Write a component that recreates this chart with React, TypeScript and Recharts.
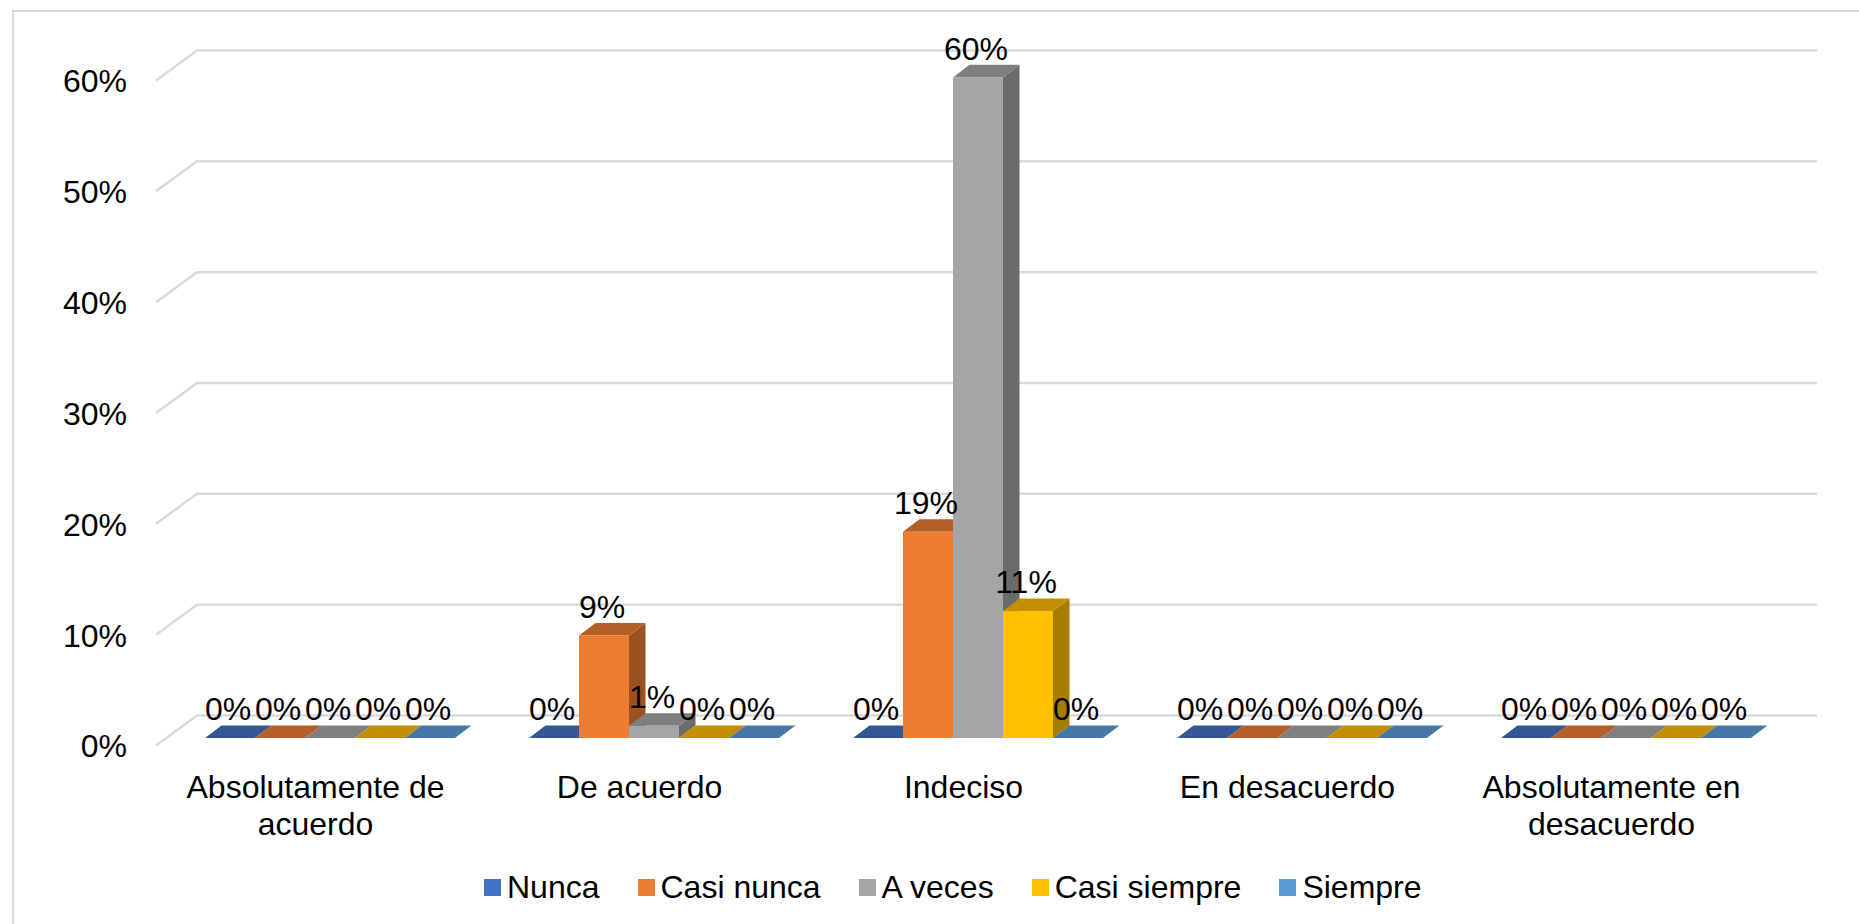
import React from 'react';
import { BarChart, Bar, XAxis, YAxis, CartesianGrid, Legend, LabelList, Text } from 'recharts';

const categories = ['Absolutamente de acuerdo', 'De acuerdo', 'Indeciso', 'En desacuerdo', 'Absolutamente en desacuerdo'];
const nunca = [0, 0, 0, 0, 0];
const casiNunca = [0, 9.25, 18.6, 0, 0];
const aVeces = [0, 1.1, 59.6, 0, 0];
const casiSiempre = [0, 0, 11.45, 0, 0];
const siempre = [0, 0, 0, 0, 0];
const yTicks = [0, 10, 20, 30, 40, 50, 60];

const seriesDefs = [
  { name: 'Nunca', values: nunca, front: '#4472C4', top: '#355694', side: '#2F4F87' },
  { name: 'Casi nunca', values: casiNunca, front: '#ED7D31', top: '#B45F25', side: '#9C5220' },
  { name: 'A veces', values: aVeces, front: '#A5A5A5', top: '#7F7F7F', side: '#6B6B6B' },
  { name: 'Casi siempre', values: casiSiempre, front: '#FFC000', top: '#C49000', side: '#A67D00' },
  { name: 'Siempre', values: siempre, front: '#5B9BD5', top: '#4677A6', side: '#3E6B96' },
];

const data = categories.map((c, i) => {
  const row: Record<string, string | number> = { category: c };
  seriesDefs.forEach((s) => { row[s.name] = s.values[i]; });
  return row;
});

const FONT = '"Liberation Sans", Arial, sans-serif';
const DX = 16.5;
const DY = 12.6;

const Bar3D = (def: typeof seriesDefs[number]) => (p: any) => {
  const { x, y, width: w, height: h } = p;
  return (
    <g>
      {h > 0 && <path d={`M${x + w} ${y}L${x + w + DX} ${y - DY}V${y + h - DY}L${x + w} ${y + h}Z`} fill={def.side} />}
      <path d={`M${x} ${y}L${x + DX} ${y - DY}H${x + w + DX}L${x + w} ${y}Z`} fill={def.top} />
      {h > 0 && <rect x={x} y={y} width={w} height={h} fill={def.front} />}
    </g>
  );
};

const gridLine = (p: any) => (
  <path
    key={`g-${p.y1}`}
    d={`M156 ${p.y1 + 7.5}L197 ${p.y1 - 22.5}H1817`}
    fill="none"
    stroke="#DADADA"
    strokeWidth={2.5}
  />
);

const YTick = (p: any) => (
  <text x={127} y={p.y + 8} dy="0.355em" textAnchor="end" fontFamily={FONT} fontSize={32} fill="#000">
    {`${p.payload.value}%`}
  </text>
);

const XTick = (p: any) => (
  <Text
    x={p.x - 14}
    y={775}
    width={330}
    textAnchor="middle"
    verticalAnchor="start"
    lineHeight={37}
    fontFamily={FONT}
    fontSize={32}
    fill="#000"
    style={{ fontFamily: FONT, fontSize: '32px' }}
  >
    {p.payload.value}
  </Text>
);

const barLabel = (p: any) => (
  <text x={p.x + p.width / 2 - 2} y={p.y - 29} dy="0.355em" textAnchor="middle" fontFamily={FONT} fontSize={32} fill="#000">
    {`${Math.round(p.value)}%`}
  </text>
);

const LegendBox = (p: any) => (
  <div style={{ display: 'flex', justifyContent: 'flex-start', alignItems: 'center', paddingTop: 41, paddingLeft: 484, fontFamily: FONT, fontSize: 32, color: '#000' }}>
    {p.payload.map((it: any) => (
      <div key={it.value} style={{ display: 'flex', alignItems: 'center', marginRight: 38 }}>
        <span style={{ width: 17, height: 17, background: it.color, marginRight: 6, display: 'inline-block' }} />
        <span>{it.value}</span>
      </div>
    ))}
  </div>
);

export default function App() {
  return (
    <div style={{ position: 'absolute', left: 0, top: 0, width: 1859, height: 924, background: '#fff' }}>
      <div style={{ position: 'absolute', left: 12, top: 10, width: 1847, height: 914, borderLeft: '2.5px solid #D9D9D9', borderTop: '2.5px solid #D9D9D9', boxSizing: 'border-box' }} />
      <BarChart
        width={1859}
        height={924}
        data={data}
        margin={{ top: 73, right: 71.5, bottom: 0, left: 0 }}
        barCategoryGap={37.5}
        barGap={0}
        style={{ position: 'absolute', left: 0, top: 0 }}
      >
        <CartesianGrid vertical={false} horizontal={gridLine} />
        <XAxis dataKey="category" height={90} axisLine={false} tickLine={false} tick={XTick} interval={0} />
        <YAxis width={167.5} domain={[0, 60]} ticks={yTicks} axisLine={false} tickLine={false} tick={YTick} />
        <Legend verticalAlign="bottom" height={96} content={LegendBox} itemSorter={null} />
        {seriesDefs.map((s) => (
          <Bar key={s.name} dataKey={s.name} fill={s.front} isAnimationActive={false} shape={Bar3D(s)}>
            <LabelList dataKey={s.name} content={barLabel} />
          </Bar>
        ))}
      </BarChart>
    </div>
  );
}
